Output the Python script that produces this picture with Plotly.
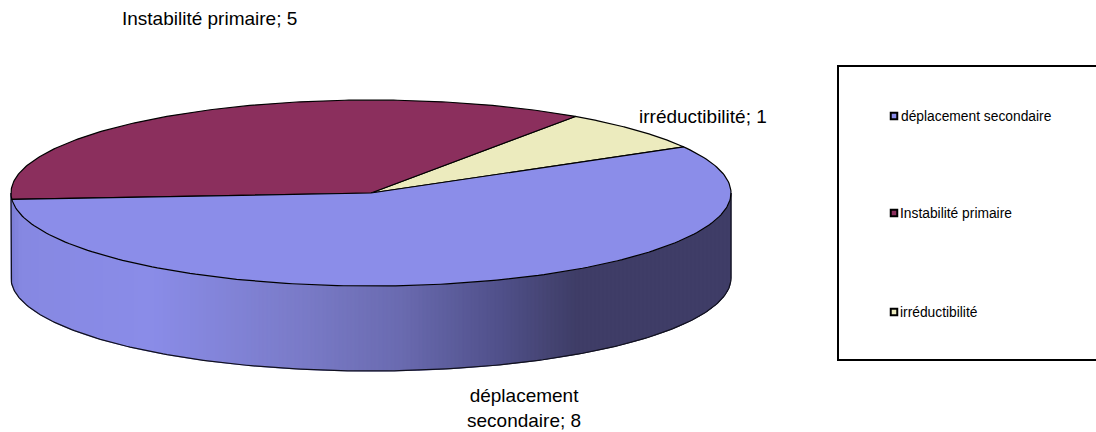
import numpy as np
import plotly.graph_objects as go

categories = ["déplacement secondaire", "Instabilité primaire", "irréductibilité"]
values = [8, 5, 1]
colors = ["#8b8de9", "#8b2f5d", "#ecebbe"]
data_labels = ["déplacement<br>secondaire; 8", "Instabilité primaire; 5", "irréductibilité; 1"]

W, H = 1096, 432
CX, CY, RX, RY, DEPTH = 371, 193, 360, 93, 85
START = 29.7  # angle (counter-clockwise) where the last slice begins
FONT = "Liberation Sans"

# side-wall shading, as (x pixel, rgb)
shade = [(11, (124, 126, 214)), (22, (134, 136, 226)), (150, (138, 140, 232)), (300, (122, 123, 200)),
         (400, (106, 107, 176)), (500, (80, 80, 138)), (575, (63, 61, 103)), (731, (63, 61, 103))]

fig = go.Figure()


def ex(a):
    return CX + RX * np.cos(np.radians(a))


def ey(a):
    return CY - RY * np.sin(np.radians(a))


# side wall, split into thin strips of equal screen width
sx, sr, sg, sb = [np.array(c) for c in zip(*[(p[0], *p[1]) for p in shade])]
edges = np.arange(CX - RX, CX + RX + 1, 4.0)
steps = 360 - np.degrees(np.arccos(np.clip((edges - CX) / RX, -1, 1)))
for a0, a1 in zip(steps[:-1], steps[1:]):
    arc = np.linspace(a0, a1, 5)
    xs = list(ex(arc)) + list(ex(arc[::-1]))
    ys = list(ey(arc)) + list(ey(arc[::-1]) + DEPTH)
    xm = float(np.mean(ex(arc)))
    col = f"rgb({np.interp(xm, sx, sr):.0f},{np.interp(xm, sx, sg):.0f},{np.interp(xm, sx, sb):.0f})"
    fig.add_trace(go.Scatter(x=xs + xs[:1], y=ys + ys[:1], mode="lines", fill="toself", fillcolor=col,
                             line=dict(color=col, width=1), hoverinfo="skip", showlegend=False))

# side wall outline
arc = np.linspace(180, 360, 241)
fig.add_trace(go.Scatter(x=[ex(180)] + list(ex(arc)) + [ex(360)],
                         y=[ey(180)] + list(ey(arc) + DEPTH) + [ey(360)],
                         mode="lines", line=dict(color="#10101c", width=1.2), hoverinfo="skip", showlegend=False))

# top face: slices go counter-clockwise from START, last category first
total = sum(values)
a = START
for name, val, col in list(zip(categories, values, colors))[::-1]:
    sweep = 360.0 * val / total
    arc = np.linspace(a, a + sweep, 200)
    xs = [CX] + list(ex(arc)) + [CX]
    ys = [CY] + list(ey(arc)) + [CY]
    fig.add_trace(go.Scatter(x=xs, y=ys, mode="lines", fill="toself", fillcolor=col, name=name,
                             line=dict(color="black", width=1.2), showlegend=False))
    a += sweep

# legend keys and entries
LEG_Y = [116, 213, 312]
fig.add_trace(go.Scatter(x=[894] * 3, y=LEG_Y, mode="markers",
                         marker=dict(symbol="square", size=6.5, color=colors, line=dict(color="black", width=2)),
                         hoverinfo="skip", showlegend=False))
fig.add_shape(type="rect", x0=838, x1=1110, y0=66, y1=360, line=dict(color="black", width=2))
for t, y, x in zip(categories, LEG_Y, [898.5, 898, 897.5]):
    fig.add_annotation(x=x, y=y, text=t, showarrow=False, xanchor="left", yanchor="middle",
                       font=dict(family=FONT, size=13.8, color="black"))

# data labels
for t, (x, y, anc) in zip(data_labels, [(524, 408, "center"), (120, 18, "left"), (637, 116, "left")]):
    fig.add_annotation(x=x, y=y, text=t, showarrow=False, xanchor=anc, yanchor="middle", align="center",
                       font=dict(family=FONT, size=19, color="black"))

fig.update_layout(
    width=W, height=H, autosize=False, margin=dict(l=0, r=0, t=0, b=0),
    paper_bgcolor="white", plot_bgcolor="white", showlegend=False,
    xaxis=dict(range=[0, W], visible=False, fixedrange=True),
    yaxis=dict(range=[H, 0], visible=False, fixedrange=True),
)
fig.write_html("out.html", config={"displayModeBar": False},
               post_script="document.body.style.margin='0';document.body.style.overflow='hidden';")
